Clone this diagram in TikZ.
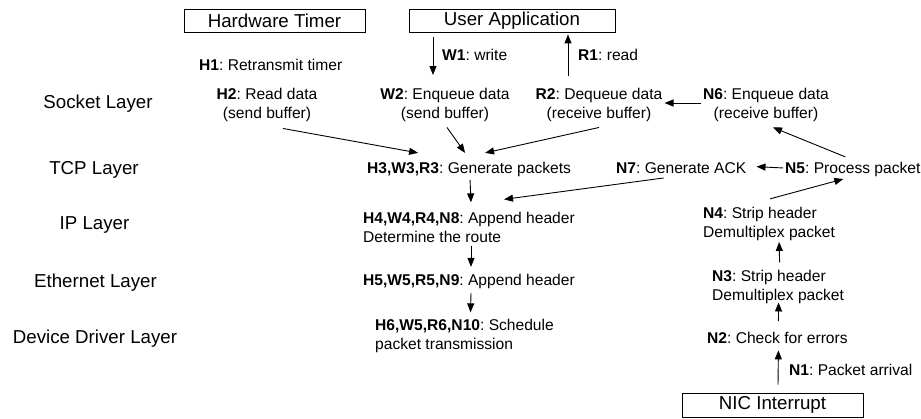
\documentclass[tikz,border=0pt]{standalone}
\usepackage{fontspec}
\setmainfont{Liberation Sans}
\usetikzlibrary{arrows.meta}
\frenchspacing
\begin{document}
\begin{tikzpicture}[x=1pt,y=-1pt,
  txt/.style={font=\fontsize{15.6}{19}\selectfont, inner sep=0pt},
  layer/.style={font=\fontsize{18.7}{22}\selectfont, inner sep=0pt, anchor=base},
  srcbox/.style={draw, line width=0.8pt, font=\fontsize{18.7}{22}\selectfont, inner sep=0pt, minimum width=181pt, minimum height=23pt},
  arr/.style={line width=0.9pt, -{Triangle[length=9pt,width=7pt]}}]
\useasboundingbox (0,0) rectangle (921,418);

% event sources
\node[srcbox] (hw) at (274.5,20.5) {Hardware Timer};
\node[srcbox, minimum width=206pt] (ua) at (512,20.5) {User Application};
\node[srcbox, minimum height=24pt] (nic) at (772.5,405) {NIC Interrupt};

% layer names
\node[layer] (lsock) at (98,108.7) {Socket Layer};
\node[layer] (ltcp) at (94,174.7) {TCP Layer};
\node[layer] (lip) at (94.5,229.7) {IP Layer};
\node[layer] (leth) at (95.5,287.7) {Ethernet Layer};
\node[layer] (ldev) at (95,343.7) {Device Driver Layer};

% socket layer
\node[txt, anchor=base west] (h1) at (199,70.6) {\textbf{H1}: Retransmit timer};
\node[txt, align=center] (h2) at (267,104.5) {\textbf{H2}: Read data\\(send buffer)};
\node[txt, align=center] (w2) at (445,104.5) {\textbf{W2}: Enqueue data\\(send buffer)};
\node[txt, align=center] (r2) at (599,104.5) {\textbf{R2}: Dequeue data\\(receive buffer)};
\node[txt, align=center] (n6) at (766,104.5) {\textbf{N6}: Enqueue data\\(receive buffer)};

% TCP layer
\node[txt, anchor=base west] (h3) at (367,173.6) {\textbf{H3,W3,R3}: Generate packets};
\node[txt, anchor=base west] (n7) at (616,173.6) {\textbf{N7}: Generate ACK};
\node[txt, anchor=base west] (n5) at (785,173.6) {\textbf{N5}: Process packet};

% IP layer
\node[txt, align=left, anchor=west] (h4) at (363,227) {\textbf{H4,W4,R4,N8}: Append header\\Determine the route};
\node[txt, align=left, anchor=west] (n4) at (703,224) {\textbf{N4}: Strip header\\Demultiplex packet};

% Ethernet layer
\node[txt, anchor=base west] (h5) at (363,285.6) {\textbf{H5,W5,R5,N9}: Append header};
\node[txt, align=left, anchor=west] (n3) at (712,286.5) {\textbf{N3}: Strip header\\Demultiplex packet};

% device driver layer
\node[txt, align=left, anchor=west] (h6) at (375,335.5) {\textbf{H6,W5,R6,N10}: Schedule\\packet transmission};
\node[txt, anchor=base west] (n2) at (707,343.6) {\textbf{N2}: Check for errors};

% connector labels
\node[txt, anchor=base west] (w1) at (442,60.6) {\textbf{W1}: write};
\node[txt, anchor=base west] (r1) at (578,60.6) {\textbf{R1}: read};
\node[txt, anchor=base west] (n1) at (789,375.6) {\textbf{N1}: Packet arrival};

% send path
\draw[arr] ([shift={(-79,5)}]ua.south) -- ([shift={(-12,-12.5)}]w2.north);
\draw[arr] ([shift={(-31,-11.5)}]r2.north) -- ([shift={(56,2)}]ua.south);
\draw[arr] ([shift={(16,7)}]h2.south) -- ([shift={(-51,-9.2)}]h3.north);
\draw[arr] ([shift={(2,6)}]w2.south) -- ([shift={(-4,-9.2)}]h3.north);
\draw[arr] ([shift={(0,6)}]r2.south) -- ([shift={(16,-9.2)}]h3.north);
\draw[arr] ([shift={(1,3)}]h3.south) -- ([shift={(2,-9.2)}]h4.north);
\draw[arr] ([shift={(2,3.4)}]h4.south) -- ([shift={(2,-7.2)}]h5.north);
\draw[arr] ([shift={(2,4)}]h5.south) -- ([shift={(6,-6.2)}]h6.north);

% receive path
\draw[arr] ([shift={(5.5,-8)}]nic.north) -- ([shift={(1,6.4)}]n2.south);
\draw[arr] ([shift={(1,-11)}]n2.north) -- ([shift={(0.5,-1)}]n3.south);
\draw[arr] ([shift={(1.5,-7.2)}]n3.north) -- ([shift={(10,1)}]n4.south);
\draw[arr] ([shift={(1,-8.2)}]n4.north) -- ([shift={(-9.5,2)}]n5.south);
\draw[arr] ([shift={(-2,-1.6)}]n5.west) -- ([shift={(10,-1.6)}]n7.east);
\draw[arr] ([shift={(-7.5,-5.2)}]n5.north) -- ([shift={(7,6)}]n6.south);
\draw[arr] ([shift={(-17.5,4)}]n7.south) -- ([shift={(35,-12.2)}]h4.north);
\draw[arr] ([shift={(-1.5,-1.5)}]n6.west) -- ([shift={(2,-1.5)}]r2.east);
\end{tikzpicture}
\end{document}
